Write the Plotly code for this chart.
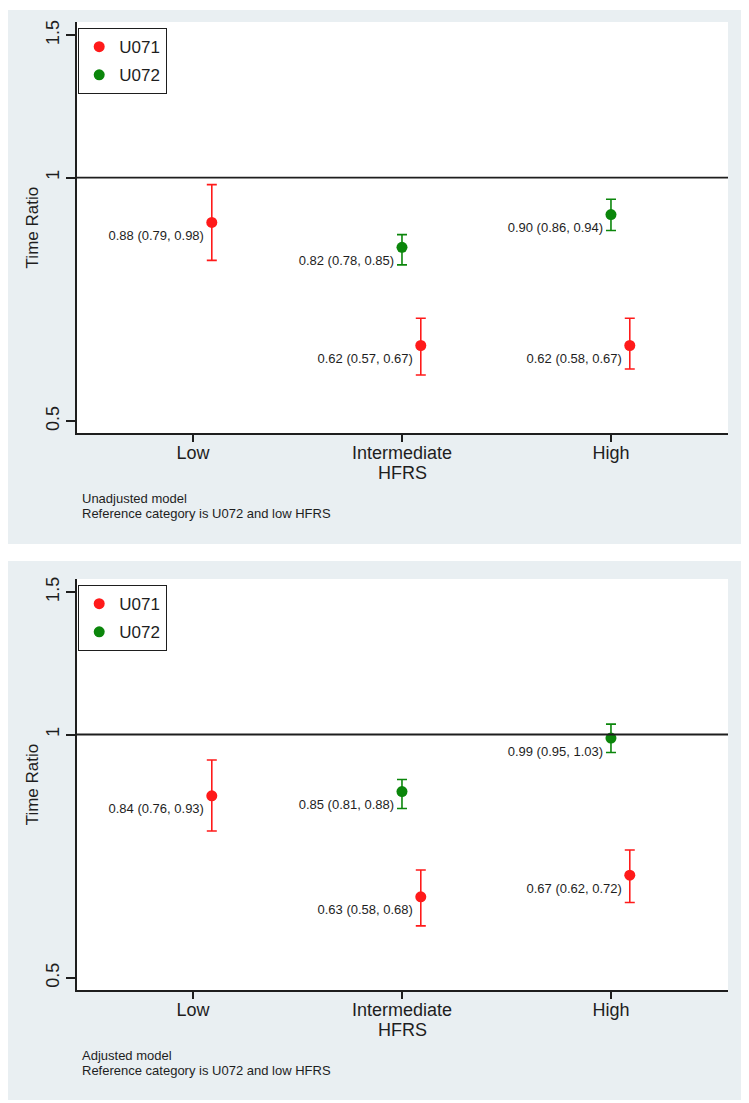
import math
import plotly.graph_objects as go

# ---------------- data ----------------
categories = ["Low", "Intermediate", "High"]

# Unadjusted model
u071_unadj_cat = ["Low", "Intermediate", "High"]
u071_unadj_est = [0.88, 0.62, 0.62]
u071_unadj_lo = [0.79, 0.57, 0.58]
u071_unadj_hi = [0.98, 0.67, 0.67]

u072_unadj_cat = ["Intermediate", "High"]
u072_unadj_est = [0.82, 0.90]
u072_unadj_lo = [0.78, 0.86]
u072_unadj_hi = [0.85, 0.94]

# Adjusted model
u071_adj_cat = ["Low", "Intermediate", "High"]
u071_adj_est = [0.84, 0.63, 0.67]
u071_adj_lo = [0.76, 0.58, 0.62]
u071_adj_hi = [0.93, 0.68, 0.72]

u072_adj_cat = ["Intermediate", "High"]
u072_adj_est = [0.85, 0.99]
u072_adj_lo = [0.81, 0.95]
u072_adj_hi = [0.88, 1.03]

ytick_vals = [0.5, 1, 1.5]
ytick_text = ["0.5", "1", "1.5"]

notes_top = ["Unadjusted model", "Reference category is U072 and low HFRS"]
notes_bottom = ["Adjusted model", "Reference category is U072 and low HFRS"]

# ---------------- style ----------------
PAGE_W, PAGE_H = 749, 1103
OFF = 8  # default page body margin
W, H = PAGE_W - OFF, PAGE_H - OFF
FONT = "Liberation Sans, Arial, Helvetica, sans-serif"
RED = "#ff1a1a"
GREEN = "#0b860b"
PANEL = "#e9eff2"
INK = "#1e1e1e"
OFFSET = {"U071": 0.09, "U072": 0.0}


def px_x(p):
    return max(0.0, (p - OFF) / W)


def px_y(p):
    return min(1.0, 1 - (p - OFF) / H)


def xpos(cats, series):
    return [categories.index(c) + 1 + OFFSET[series] for c in cats]


def label(est, lo, hi):
    return [f"{e:.2f} ({l:.2f}, {h:.2f})" for e, l, h in zip(est, lo, hi)]


fig = go.Figure()


def add_series(name, color, cats, est, lo, hi, xa, ya, legend):
    x = xpos(cats, name)
    fig.add_trace(go.Scatter(
        x=x, y=est, mode="markers", name=name,
        marker=dict(color=color, size=11),
        error_y=dict(type="data", symmetric=False,
                     array=[h - e for e, h in zip(est, hi)],
                     arrayminus=[e - l for e, l in zip(est, lo)],
                     color=color, thickness=1.6, width=5),
        xaxis=xa, yaxis=ya, legend=legend, legendgroup=legend + name,
        hoverinfo="skip",
    ))
    fig.add_trace(go.Scatter(
        x=x, y=est, mode="markers+text", showlegend=False,
        marker=dict(size=11, opacity=0),
        text=label(est, lo, hi), textposition="bottom left",
        textfont=dict(family=FONT, size=13, color=INK),
        xaxis=xa, yaxis=ya, hoverinfo="skip",
    ))


add_series("U071", RED, u071_unadj_cat, u071_unadj_est, u071_unadj_lo, u071_unadj_hi, "x", "y", "legend")
add_series("U072", GREEN, u072_unadj_cat, u072_unadj_est, u072_unadj_lo, u072_unadj_hi, "x", "y", "legend")
add_series("U071", RED, u071_adj_cat, u071_adj_est, u071_adj_lo, u071_adj_hi, "x2", "y2", "legend2")
add_series("U072", GREEN, u072_adj_cat, u072_adj_est, u072_adj_lo, u072_adj_hi, "x2", "y2", "legend2")

yr = [math.log10(0.483), math.log10(1.557)]
xr = [0.445, 3.56]
xdom = [px_x(77), px_x(728)]
ydom_top = [px_y(432), px_y(20)]
ydom_bot = [px_y(990), px_y(578)]

common_x = dict(range=xr, tickvals=[1, 2, 3], ticktext=categories, showgrid=False,
                zeroline=False, showline=True, linecolor=INK, linewidth=1.8,
                ticks="outside", ticklen=7, tickwidth=1.5, tickcolor=INK,
                ticklabelstandoff=-5,
                tickfont=dict(family=FONT, size=18, color=INK),
                title=dict(text="HFRS", font=dict(family=FONT, size=18, color=INK), standoff=2))
common_y = dict(type="log", range=yr, tickvals=ytick_vals, ticktext=ytick_text,
                showgrid=False, zeroline=False, showline=True, linecolor=INK, linewidth=1.8,
                ticks="outside", ticklen=9, tickwidth=1.5, tickcolor=INK, tickangle=-90,
                tickfont=dict(family=FONT, size=18, color=INK),
                title=dict(text="Time Ratio", font=dict(family=FONT, size=17, color=INK), standoff=0))

legend_common = dict(bgcolor="white", bordercolor=INK, borderwidth=1.2,
                     font=dict(family=FONT, size=17, color=INK),
                     xanchor="left", yanchor="top", tracegroupgap=3,
                     traceorder="grouped", itemwidth=30)

fig.update_layout(
    width=W, height=H, margin=dict(l=0, r=0, t=0, b=0),
    paper_bgcolor="white", plot_bgcolor="white",
    showlegend=True,
    xaxis=dict(domain=xdom, anchor="y", **common_x),
    yaxis=dict(domain=ydom_top, anchor="x", **common_y),
    xaxis2=dict(domain=xdom, anchor="y2", **common_x),
    yaxis2=dict(domain=ydom_bot, anchor="x2", **common_y),
    legend=dict(x=px_x(78), y=px_y(26), **legend_common),
    legend2=dict(x=px_x(78), y=px_y(584), **legend_common),
)

shapes = [
    dict(type="rect", xref="paper", yref="paper", x0=px_x(3), x1=px_x(746),
         y0=px_y(543), y1=px_y(3), fillcolor=PANEL, line=dict(width=0), layer="below"),
    dict(type="rect", xref="paper", yref="paper", x0=px_x(3), x1=px_x(746),
         y0=px_y(1100), y1=px_y(560), fillcolor=PANEL, line=dict(width=0), layer="below"),
    dict(type="rect", xref="paper", yref="paper", x0=xdom[0], x1=xdom[1],
         y0=ydom_top[0], y1=ydom_top[1], fillcolor="white", line=dict(width=0), layer="below"),
    dict(type="rect", xref="paper", yref="paper", x0=xdom[0], x1=xdom[1],
         y0=ydom_bot[0], y1=ydom_bot[1], fillcolor="white", line=dict(width=0), layer="below"),
    dict(type="line", xref="x domain", yref="y", x0=0, x1=1, y0=1, y1=1,
         line=dict(color=INK, width=1.8)),
    dict(type="line", xref="x2 domain", yref="y2", x0=0, x1=1, y0=1, y1=1,
         line=dict(color=INK, width=1.8)),
]
fig.update_layout(shapes=shapes)

anns = []
for notes, ys in ((notes_top, (497, 512)), (notes_bottom, (1055, 1070))):
    for t, yy in zip(notes, ys):
        anns.append(dict(text=t, xref="paper", yref="paper", x=px_x(80), y=px_y(yy),
                         xanchor="left", yanchor="middle", showarrow=False,
                         font=dict(family=FONT, size=13, color=INK)))
fig.update_layout(annotations=anns)

fig.write_html("out.html")
